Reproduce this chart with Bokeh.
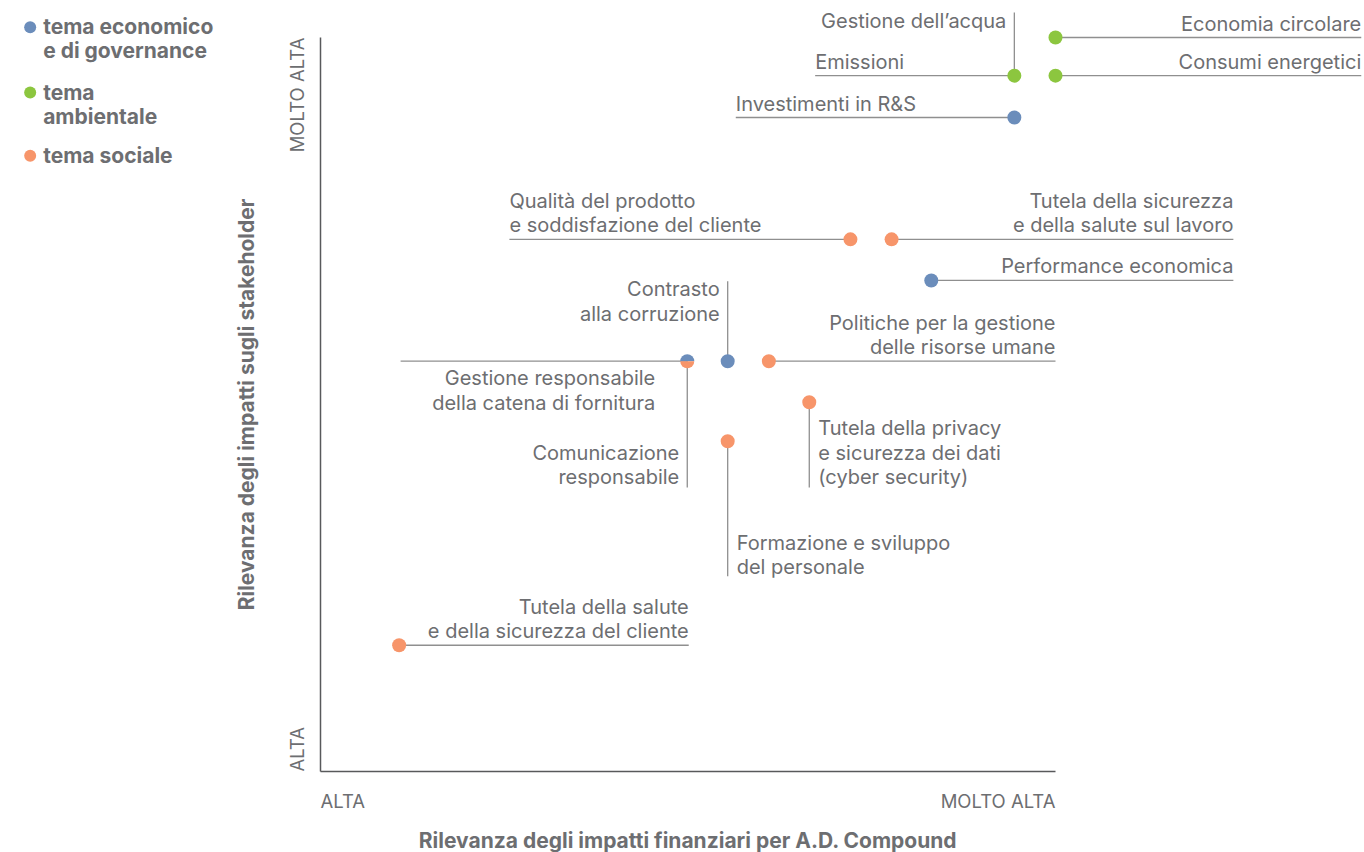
import math
from collections import OrderedDict
from bokeh.plotting import figure
from bokeh.models import ColumnDataSource, Range1d
from bokeh.core.properties import value, field
from bokeh.embed import file_html
from bokeh.resources import INLINE

# ---------------- data ----------------
topics = [
    "Economia circolare",
    "Consumi energetici",
    "Emissioni",
    "Gestione dell\u2019acqua",
    "Investimenti in R&S",
    "Qualità del prodotto\ne soddisfazione del cliente",
    "Tutela della sicurezza\ne della salute sul lavoro",
    "Performance economica",
    "Contrasto\nalla corruzione",
    "Gestione responsabile\ndella catena di fornitura",
    "Comunicazione\nresponsabile",
    "Politiche per la gestione\ndelle risorse umane",
    "Tutela della privacy\ne sicurezza dei dati\n(cyber security)",
    "Formazione e sviluppo\ndel personale",
    "Tutela della salute\ne della sicurezza del cliente",
]
categories = ["amb", "amb", "amb", "amb", "eco", "soc", "soc", "eco",
              "eco", "eco", "soc", "soc", "soc", "soc", "soc"]
# relevance of financial impacts (0 = ALTA, 10 = MOLTO ALTA)
fin_impact = [10.0, 10.0, 9.44, 9.44, 9.44, 7.21, 7.77, 8.31,
              5.54, 4.99, 4.99, 6.10, 6.65, 5.54, 1.07]
# relevance of impacts on stakeholders (0 = ALTA, 10 = MOLTO ALTA)
stk_impact = [10.0, 9.48, 9.48, 9.48, 8.91, 7.25, 7.25, 6.69,
              5.59, 5.59, 5.59, 5.59, 5.03, 4.50, 1.72]

legend_keys = ["eco", "amb", "soc"]
legend_labels = ["tema economico\ne di governance", "tema\nambientale", "tema sociale"]

x_ticks = ["ALTA", "MOLTO ALTA"]
y_ticks = ["ALTA", "MOLTO ALTA"]
x_title = "Rilevanza degli impatti finanziari per A.D. Compound"
y_title = "Rilevanza degli impatti sugli stakeholder"

# ---------------- styles / layout ----------------
colors = {"eco": "#6b8dbb", "amb": "#8cc63f", "soc": "#f7956a"}
TEXT = "#6d6e71"
LEAD = "#8f8f8f"
AXIS = "#58595b"
FONT = "Inter"
LH = 1.02

W, H = 1364, 852
OX, OY = 320, 771          # canvas pixel of data (0, 0)
SX, SY = 73.5, 73.4        # pixels per data unit

# leader-line end points (data units) for each topic
lead_end_x = [14.16, 14.16, 6.73, 9.44, 5.65, 2.57, 12.42, 12.42,
              5.54, 1.09, 4.99, 10.0, 6.65, 5.54, 5.01]
lead_end_y = [10.0, 9.48, 9.48, 10.34, 8.91, 7.25, 7.25, 6.69,
              6.68, 5.59, 3.87, 5.59, 3.87, 2.66, 1.72]
# label placement: anchored at leader end ("end") or at point ("pt")
lab_anchor = ["end", "end", "end", "end", "end", "end", "end", "end",
              "end", "pt", "end", "end", "end", "end", "end"]
lab_align = ["right", "right", "left", "right", "left", "left", "right", "right",
             "right", "right", "right", "right", "left", "left", "right"]
lab_base = ["bottom", "bottom", "bottom", "top", "bottom", "bottom", "bottom", "bottom",
            "top", "top", "bottom", "bottom", "bottom", "bottom", "bottom"]
lab_dx = [0, 0, 0, -8, 0, 0, 0, 0, -8, -32, -8, 0, 9, 9, 0]
lab_dy = [-2, -2, -2, -4, -2, -2, -2, -2, -4, 5, 2, -2, 2, 3, -2]

p = figure(width=W, height=H, output_backend="svg", toolbar_location=None,
           x_range=Range1d(-OX / SX, (W - OX) / SX),
           y_range=Range1d(-(H - OY) / SY, OY / SY),
           min_border=0, outline_line_color=None)
p.axis.visible = False
p.grid.visible = False
p.background_fill_color = "white"
p.border_fill_color = "white"

# axes lines
p.segment(x0=[0, 0], y0=[0, 0], x1=[0, 10], y1=[10, 0], line_color=AXIS, line_width=1.5)

# leader lines
p.segment(x0=fin_impact, y0=stk_impact, x1=lead_end_x, y1=lead_end_y,
          line_color=LEAD, line_width=1.3)

# points
groups = OrderedDict()
for i in range(len(topics)):
    key = (fin_impact[i], stk_impact[i])
    groups.setdefault(key, [])
    if categories[i] not in groups[key]:
        groups[key].append(categories[i])
sx, sy, sc = [], [], []
wx, wy, wa0, wa1, wc = [], [], [], [], []
for (gx, gy), cats in groups.items():
    if len(cats) == 1:
        sx.append(gx); sy.append(gy); sc.append(colors[cats[0]])
    else:
        wx += [gx, gx]; wy += [gy, gy]
        wa0 += [0, math.pi]; wa1 += [math.pi, 2 * math.pi]
        wc += [colors[cats[0]], colors[cats[1]]]
p.scatter(sx, sy, size=14, fill_color=sc, line_color=None)
if wx:
    p.wedge(x=wx, y=wy, radius=7, radius_units="screen", start_angle=wa0, end_angle=wa1,
            fill_color=wc, line_color=None)

# topic labels
lx = [lead_end_x[i] if lab_anchor[i] == "end" else fin_impact[i] for i in range(len(topics))]
ly = [lead_end_y[i] if lab_anchor[i] == "end" else stk_impact[i] for i in range(len(topics))]
src = ColumnDataSource(dict(x=lx, y=ly, t=topics, al=lab_align, bl=lab_base, dx=lab_dx, dy=lab_dy))
p.text(x="x", y="y", text="t", source=src, text_align=field("al"), text_baseline=field("bl"),
       x_offset="dx", y_offset="dy", text_font=value(FONT), text_font_size="20px",
       text_color=TEXT, text_line_height=LH)

# legend
leg_y = [10.14, 9.25, 8.39]
leg_x = [-3.95] * 3
p.scatter(leg_x, leg_y, size=12, fill_color=[colors[k] for k in legend_keys], line_color=None)
p.text(x=leg_x, y=leg_y, text=legend_labels, x_offset=13, y_offset=-13,
       text_align="left", text_baseline="top", text_font=value(FONT),
       text_font_style="bold", text_font_size="21px", text_color=TEXT, text_line_height=0.97)

# tick labels
tx = ColumnDataSource(dict(x=[0, 10], y=[0, 0], t=x_ticks, al=["left", "right"]))
p.text(x="x", y="y", text="t", source=tx, text_align=field("al"), text_baseline="middle",
       y_offset=29, text_font=value(FONT), text_font_size="18.5px", text_color=TEXT)
ty = ColumnDataSource(dict(x=[0, 0], y=[0, 10], t=y_ticks, al=["left", "right"]))
p.text(x="x", y="y", text="t", source=ty, text_align=field("al"), text_baseline="middle",
       x_offset=-24, angle=math.pi / 2, text_font=value(FONT), text_font_size="18.5px",
       text_color=TEXT)

# axis titles
p.text(x=[5], y=[0], text=[x_title], text_align="center", text_baseline="middle",
       y_offset=69, text_font=value(FONT), text_font_style="bold",
       text_font_size="21px", text_color=TEXT)
p.text(x=[0], y=[5], text=[y_title], text_align="center", text_baseline="middle",
       x_offset=-74, angle=math.pi / 2, text_font=value(FONT), text_font_style="bold",
       text_font_size="21px", text_color=TEXT)

open("out.html", "w").write(file_html(p, INLINE))
